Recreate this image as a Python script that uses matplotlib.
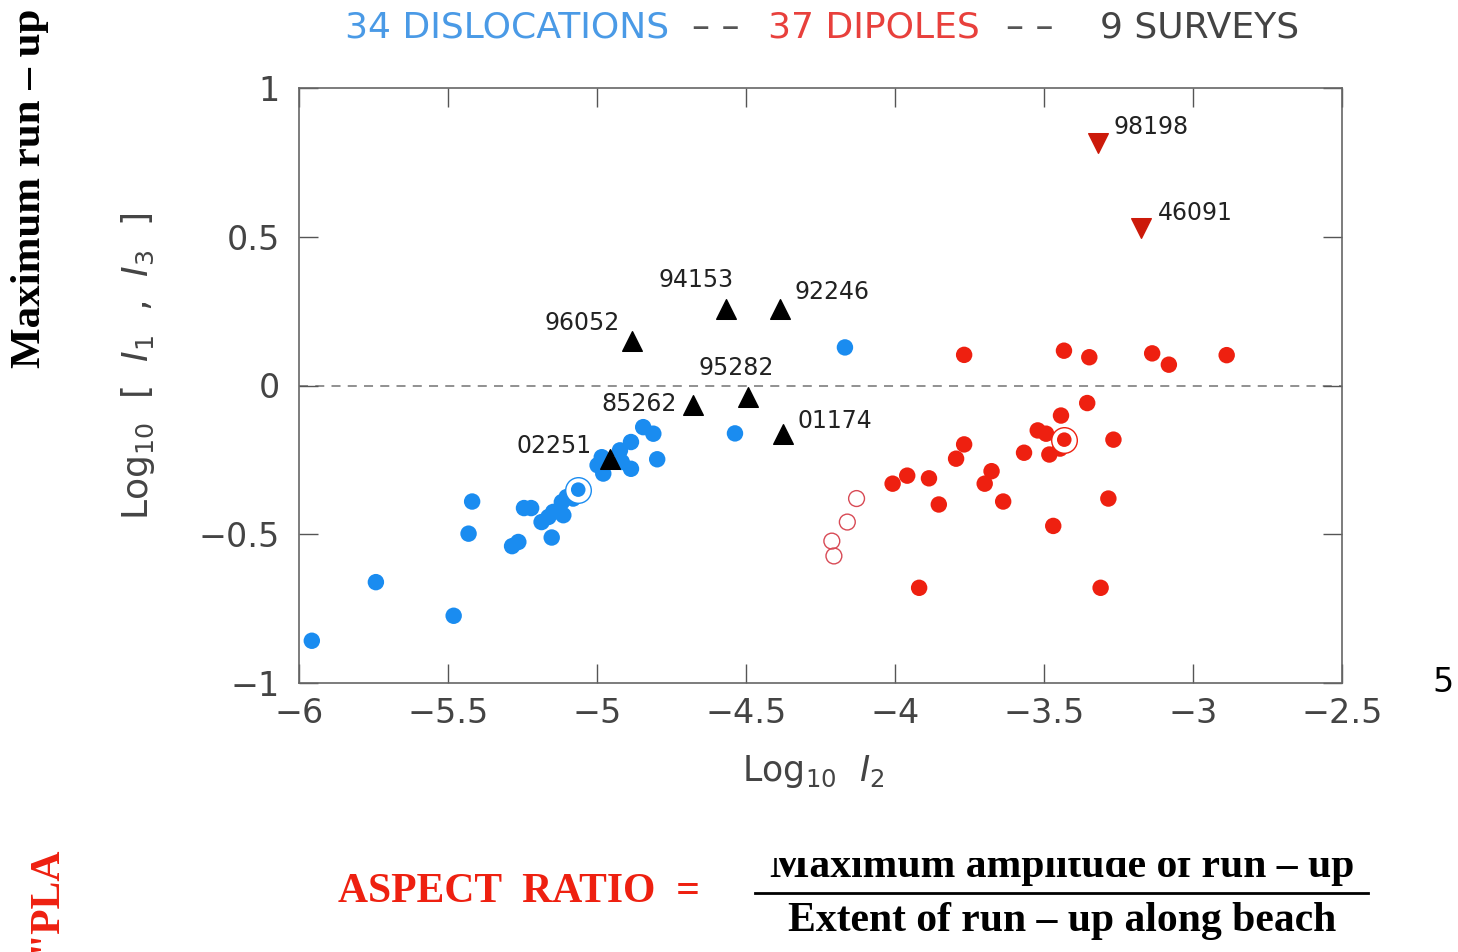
import matplotlib.pyplot as plt
from matplotlib.patches import Rectangle
from matplotlib.lines import Line2D

# dislocations (blue)
blue_x = [-5.957, -5.742, -5.481, -5.419, -5.431, -5.285, -5.264, -5.245, -5.221,
          -5.152, -5.186, -5.163, -5.147, -5.113, -5.118, -5.102, -5.080, -4.998,
          -4.984, -4.979, -4.923, -4.917, -4.886, -4.886, -4.845, -4.811, -4.798,
          -4.537, -4.168]
blue_y = [-0.858, -0.661, -0.774, -0.390, -0.498, -0.540, -0.526, -0.412, -0.412,
          -0.511, -0.459, -0.442, -0.425, -0.436, -0.392, -0.375, -0.380, -0.268,
          -0.241, -0.296, -0.218, -0.257, -0.190, -0.280, -0.140, -0.162, -0.248,
          -0.161, 0.128]
blue_ring_x = [-5.063]
blue_ring_y = [-0.350]

# dipoles (red)
red_x = [-3.768, -3.433, -3.348, -3.137, -3.081, -2.887, -3.355, -3.443, -3.521,
         -3.493, -3.446, -3.482, -3.267, -3.768, -3.795, -3.567, -3.676, -3.699,
         -4.008, -3.959, -3.886, -3.853, -3.637, -3.284, -3.469, -3.919, -3.310]
red_y = [0.103, 0.117, 0.095, 0.108, 0.070, 0.102, -0.059, -0.101, -0.151,
         -0.162, -0.212, -0.232, -0.182, -0.198, -0.246, -0.226, -0.288, -0.330,
         -0.330, -0.303, -0.312, -0.400, -0.390, -0.380, -0.472, -0.680, -0.680]
red_ring_x = [-3.432]
red_ring_y = [-0.182]
red_open_x = [-4.129, -4.160, -4.212, -4.205]
red_open_y = [-0.380, -0.459, -0.523, -0.573]

# surveys (black triangles)
survey_names = ["96052", "94153", "92246", "95282", "85262", "01174", "02251"]
survey_x = [-4.884, -4.568, -4.386, -4.492, -4.677, -4.377, -4.956]
survey_y = [0.149, 0.257, 0.257, -0.039, -0.064, -0.164, -0.248]

# red down triangles
down_names = ["98198", "46091"]
down_x = [-3.319, -3.174]
down_y = [0.815, 0.530]

xticks = [-6, -5.5, -5, -4.5, -4, -3.5, -3, -2.5]
yticks = [-1, -0.5, 0, 0.5, 1]

# label offsets in pixels (dx, dy, ha)
offsets = {
    "96052": (-12, 18, "right"), "94153": (-30, 29, "center"),
    "92246": (15, 17, "left"), "95282": (-12, 29, "center"),
    "85262": (-17, 1, "right"), "01174": (15, 13, "left"),
    "02251": (-18, 13, "right"), "98198": (16, 16, "left"),
    "46091": (17, 15, "left"),
}

BLUE = "#1a8cf0"
RED = "#ee2010"
GREY = "#555555"

fig = plt.figure(figsize=(14.58, 9.52), dpi=100)
ax = fig.add_axes([299 / 1458, 1 - 683 / 952, (1342 - 299) / 1458, (683 - 88) / 952])

ax.axhline(0, color="#888888", lw=1.3, ls=(0, (5, 4)), zorder=1)

ax.scatter(blue_x, blue_y, s=140, color=BLUE, edgecolors="none", zorder=3)
ax.scatter(blue_ring_x, blue_ring_y, s=340, facecolors="white", edgecolors=BLUE, linewidths=1.0, zorder=3)
ax.scatter(blue_ring_x, blue_ring_y, s=110, color=BLUE, edgecolors="none", zorder=4)

ax.scatter(red_x, red_y, s=140, color=RED, edgecolors="none", zorder=3)
ax.scatter(red_open_x, red_open_y, s=130, facecolors="none", edgecolors="#d84a55", linewidths=1.0, zorder=3)
ax.scatter(red_ring_x, red_ring_y, s=340, facecolors="white", edgecolors=RED, linewidths=1.0, zorder=3)
ax.scatter(red_ring_x, red_ring_y, s=110, color=RED, edgecolors="none", zorder=4)

ax.scatter(survey_x, survey_y, s=200, marker="^", color="black", zorder=5)
ax.scatter(down_x, down_y, s=200, marker="v", color="#cc1a0a", zorder=5)

for name, x, y in zip(survey_names + down_names, survey_x + down_x, survey_y + down_y):
    dx, dy, ha = offsets[name]
    ax.annotate(name, (x, y), xytext=(dx, dy), textcoords="offset pixels",
                ha=ha, va="center", fontsize=17, color="#222222")

ax.set_xlim(-6, -2.5)
ax.set_ylim(-1, 1)
ax.set_xticks(xticks)
ax.set_yticks(yticks)
ax.set_xticklabels(["\u22126", "\u22125.5", "\u22125", "\u22124.5", "\u22124", "\u22123.5", "\u22123", "\u22122.5"])
ax.set_yticklabels(["\u22121", "\u22120.5", "0", "0.5", "1"])
ax.tick_params(direction="in", length=14, width=1.0, color=GREY, labelsize=24,
               labelcolor="#444444", top=True, right=True)
ax.tick_params(axis="x", pad=10)
ax.tick_params(axis="y", pad=14)
for sp in ax.spines.values():
    sp.set_color("#666666")
    sp.set_linewidth(1.2)

fig.text(813 / 1458, 1 - 772 / 952, r"Log$_{10}$  $I_2$", ha="center", va="center",
         fontsize=25, color="#444444")
fig.text(138 / 1458, 1 - 366 / 952, r"Log$_{10}$  [  $I_1$  ,  $I_3$  ]", ha="center",
         va="center", rotation=90, fontsize=26, color="#444444")

# title pieces
title_y = 1 - 28 / 952
fig.text(345 / 1458, title_y, "34 DISLOCATIONS", color="#4a9ae6", fontsize=26, va="center")
fig.text(692 / 1458, title_y, "\u2013 \u2013", color=GREY, fontsize=26, va="center")
fig.text(768 / 1458, title_y, "37 DIPOLES", color="#e8403c", fontsize=26, va="center")
fig.text(1006 / 1458, title_y, "\u2013 \u2013", color=GREY, fontsize=26, va="center")
fig.text(1100 / 1458, title_y, "9 SURVEYS", color="#444444", fontsize=26, va="center")

fig.text(1443 / 1458, 1 - 683 / 952, "5", fontsize=24, color="black", ha="center", va="center")

serif = "Liberation Serif"
fig.text(30 / 1458, 1 - 188 / 952, "Maximum run \u2013 up", rotation=90, ha="center",
         va="center", family=serif, weight="bold", fontsize=31, color="black")
fig.text(45 / 1458, 1 - 952 / 952, "\"PLA", rotation=90, ha="center", va="bottom",
         family=serif, weight="bold", fontsize=30, color=RED)

fig.text(338 / 1458, 1 - 892 / 952, "ASPECT  RATIO  =", ha="left", va="center",
         family=serif, weight="bold", fontsize=30, color=RED)
fig.text(1062 / 1458, 1 - 877 / 952, "Maximum amplitude of run \u2013 up", ha="center",
         va="baseline", family=serif, weight="bold", fontsize=30, color="black")
fig.text(1062 / 1458, 1 - 921 / 952, "Extent of run \u2013 up along beach", ha="center",
         va="center", family=serif, weight="bold", fontsize=30, color="black")
fig.add_artist(Line2D([755 / 1458, 1368 / 1458], [1 - 893 / 952, 1 - 893 / 952],
                      color="black", lw=2))
fig.add_artist(Rectangle((700 / 1458, 1 - 858 / 952), 720 / 1458, 50 / 952,
                         facecolor="white", edgecolor="none", zorder=10))

fig.savefig("out.png", dpi=100)
